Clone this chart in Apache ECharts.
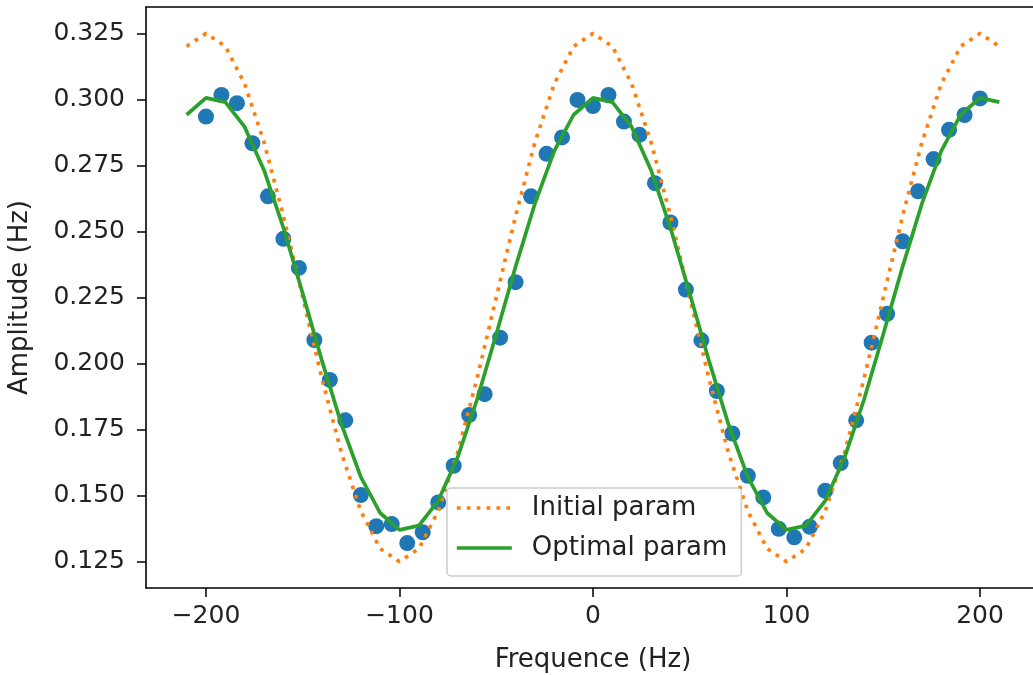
<!DOCTYPE html>
<html><head><meta charset="utf-8">
<script src="https://cdn.jsdelivr.net/npm/echarts@6/dist/echarts.min.js"></script>
<style>html,body{margin:0;padding:0;background:#fff}#c{width:1033px;height:675px}</style>
</head><body><div id="c"></div>
<script>
// Measured points
const freqPoints = [-200,-192,-184,-176,-168,-160,-152,-144,-136,-128,-120,-112,-104,-96,-88,-80,-72,-64,-56,-48,-40,-32,-24,-16,-8,0,8,16,24,32,40,48,56,64,72,80,88,96,104,112,120,128,136,144,152,160,168,176,184,192,200];
const ampPoints = [0.2935,0.3017,0.2986,0.2834,0.2633,0.2472,0.2362,0.2089,0.1938,0.1785,0.1502,0.1384,0.1392,0.1320,0.1361,0.1474,0.1613,0.1805,0.1884,0.2098,0.2308,0.2633,0.2794,0.2856,0.2998,0.2975,0.3017,0.2916,0.2866,0.2683,0.2534,0.2280,0.2088,0.1896,0.1735,0.1575,0.1493,0.1374,0.1342,0.1382,0.1518,0.1623,0.1785,0.2079,0.2188,0.2463,0.2652,0.2774,0.2885,0.2941,0.3004];
// Curves
const curveFreq = [-210,-200,-190,-180,-170,-160,-150,-140,-130,-120,-110,-100,-90,-80,-70,-60,-50,-40,-30,-20,-10,0,10,20,30,40,50,60,70,80,90,100,110,120,130,140,150,160,170,180,190,200,210];
const initialAmp = [0.3201,0.325,0.3201,0.3059,0.2838,0.2559,0.225,0.1941,0.1662,0.1441,0.1299,0.125,0.1299,0.1441,0.1662,0.1941,0.225,0.2559,0.2838,0.3059,0.3201,0.325,0.3201,0.3059,0.2838,0.2559,0.225,0.1941,0.1662,0.1441,0.1299,0.125,0.1299,0.1441,0.1662,0.1941,0.225,0.2559,0.2838,0.3059,0.3201,0.325,0.3201];
const optimalAmp = [0.2942,0.3006,0.2990,0.2896,0.2732,0.2514,0.2265,0.2009,0.1770,0.1571,0.1434,0.1370,0.1386,0.1480,0.1644,0.1862,0.2111,0.2367,0.2606,0.2805,0.2942,0.3006,0.2990,0.2896,0.2732,0.2514,0.2265,0.2009,0.1770,0.1571,0.1434,0.1370,0.1386,0.1480,0.1644,0.1862,0.2111,0.2367,0.2606,0.2805,0.2942,0.3006,0.2990];
// Ticks
const xTicks = [-200,-100,0,100,200];
const yTicks = [0.125,0.150,0.175,0.200,0.225,0.250,0.275,0.300,0.325];

const FONT = 'DejaVu Sans';
const chart = echarts.init(document.getElementById('c'), null, {renderer:'canvas'});
const zip = (a,b) => a.map((v,i)=>[v,b[i]]);
const spine = {show:true, onZero:false, lineStyle:{color:'#000', width:1.6}};
chart.setOption({
  animation:false,
  backgroundColor:'#fff',
  grid:{left:146, top:7, width:894, height:581, outerBoundsMode:'none', containLabel:false, show:false},
  legend:{
    data:['Initial param','Optimal param'], orient:'vertical', left:447, top:488,
    padding:[7,14,15,8], itemWidth:55, itemHeight:14, itemGap:14,
    backgroundColor:'rgba(255,255,255,0.8)', borderColor:'#ccc', borderWidth:1.5, borderRadius:4,
    selectedMode:false,
    itemStyle:{color:'rgba(0,0,0,0)', borderWidth:0, borderColor:'rgba(0,0,0,0)'},
    lineStyle:{width:3.7},
    textStyle:{fontFamily:FONT, fontSize:26, color:'#222', padding:[0,0,0,15]}
  },
  xAxis:[{
    type:'value', min:-231, max:231, position:'bottom',
    name:'Frequence (Hz)', nameLocation:'middle', nameGap:59,
    nameTextStyle:{fontFamily:FONT, fontSize:26, color:'#222'},
    axisLine:spine,
    axisTick:{show:true, length:9, customValues:xTicks, lineStyle:{color:'#000', width:1.5}},
    axisLabel:{customValues:xTicks, margin:16, fontFamily:FONT, fontSize:25, color:'#222',
      formatter:v=>String(v).replace('-','\u2212')},
    splitLine:{show:false}
  },{
    type:'value', min:-231, max:231, position:'top',
    axisLine:spine, axisTick:{show:false}, axisLabel:{show:false}, splitLine:{show:false}
  }],
  yAxis:{
    type:'value', min:0.115, max:0.335,
    name:'Amplitude (Hz)', nameLocation:'middle', nameGap:113,
    nameTextStyle:{fontFamily:FONT, fontSize:26, color:'#222'},
    axisLine:spine,
    axisTick:{show:true, length:9, customValues:yTicks, lineStyle:{color:'#000', width:1.5}},
    axisLabel:{customValues:yTicks, margin:21, fontFamily:FONT, fontSize:25, color:'#222',
      formatter:v=>Number(v).toFixed(3)},
    splitLine:{show:false}
  },
  series:[
    {type:'scatter', name:'Data', data:zip(freqPoints, ampPoints), symbolSize:16,
     itemStyle:{color:'#1f77b4', opacity:1}},
    {type:'line', name:'Initial param', data:zip(curveFreq, initialAmp), symbol:'none',
     lineStyle:{color:'#ff7f0e', width:3.7, type:[3.7,6.2], cap:'butt'}, itemStyle:{color:'#ff7f0e'}},
    {type:'line', name:'Optimal param', data:zip(curveFreq, optimalAmp), symbol:'none',
     lineStyle:{color:'#2ca02c', width:3.7}, itemStyle:{color:'#2ca02c'}}
  ]
});
</script></body></html>
